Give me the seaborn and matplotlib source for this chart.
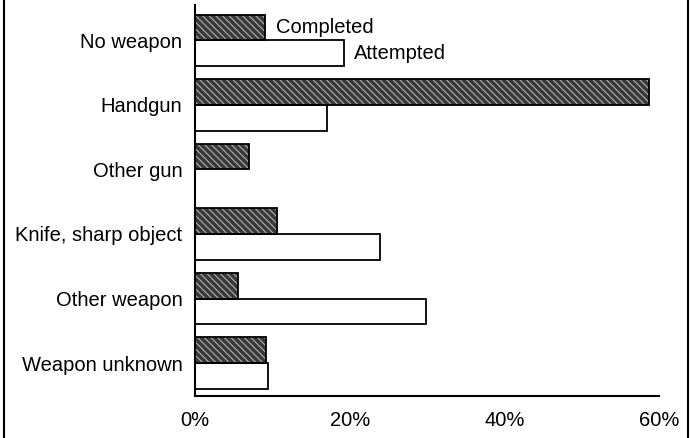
import pandas as pd
import matplotlib.pyplot as plt
import seaborn as sns
from matplotlib.patches import Rectangle
from matplotlib.lines import Line2D
from matplotlib.ticker import FuncFormatter

weapons = ["No weapon", "Handgun", "Other gun", "Knife, sharp object",
           "Other weapon", "Weapon unknown"]
completed = [9.1, 58.7, 7.0, 10.6, 5.6, 9.2]
attempted = [19.3, 17.1, 0.0, 23.9, 29.9, 9.5]

df = pd.DataFrame({
    "weapon": weapons * 2,
    "pct": completed + attempted,
    "status": ["Completed"] * len(weapons) + ["Attempted"] * len(weapons),
})

sns.set_style("white")
plt.rcParams["font.family"] = ["Liberation Sans", "DejaVu Sans"]
plt.rcParams["hatch.linewidth"] = 0.8
plt.rcParams["text.color"] = "black"
plt.rcParams["xtick.color"] = "black"
plt.rcParams["ytick.color"] = "black"

FS = 14.5

fig = plt.figure(figsize=(6.9, 4.38), dpi=100)
ax = fig.add_axes([0.2826, 0.0959, 0.6725, 0.893])

sns.barplot(data=df, y="weapon", x="pct", hue="status", orient="h",
            palette={"Completed": "#3a3a3a", "Attempted": "white"},
            width=0.8, ax=ax, legend=False, saturation=1)

# completed bars: dark stipple-like hatch with black outline
for p in ax.containers[0]:
    p.set_hatch("\\\\\\\\\\")
    p.set_edgecolor("#b0b0b0")
    p.set_linewidth(0)
    ax.add_patch(Rectangle(p.get_xy(), p.get_width(), p.get_height(),
                           fill=False, ec="black", lw=1.3))
for p in ax.containers[1]:
    p.set_edgecolor("black")
    p.set_linewidth(1.3)
    if p.get_width() == 0:
        p.set_visible(False)

# direct labels instead of legend
c0 = ax.containers[0][0]
a0 = ax.containers[1][0]
ax.text(completed[0] + 1.4, c0.get_y() + c0.get_height() / 2, "Completed",
        va="center", ha="left", fontsize=FS, color="black")
ax.text(attempted[0] + 1.3, a0.get_y() + a0.get_height() / 2, "Attempted",
        va="center", ha="left", fontsize=FS, color="black")

ax.set_xlim(0, 60)
ax.set_ylim(5.51, -0.55)
ax.set_xticks([0, 20, 40, 60])
ax.xaxis.set_major_formatter(FuncFormatter(lambda v, _: f"{v:.0f}%"))
ax.set_xlabel("")
ax.set_ylabel("")
ax.tick_params(axis="x", direction="inout", length=12, width=1.2,
               labelsize=FS, pad=5, colors="black")
ax.tick_params(axis="y", length=0, labelsize=FS, pad=9, colors="black")

sns.despine(ax=ax, top=True, right=True)
ax.spines["left"].set_linewidth(1.5)
ax.spines["bottom"].set_linewidth(1.5)
ax.spines["left"].set_color("black")
ax.spines["bottom"].set_color("black")

# outer frame lines at left and right edges
fig.add_artist(Line2D([0.006, 0.006], [0, 1], transform=fig.transFigure,
                      color="black", lw=1.5))
fig.add_artist(Line2D([0.997, 0.997], [0, 1], transform=fig.transFigure,
                      color="black", lw=1.5))

fig.savefig("out.png", dpi=100)
